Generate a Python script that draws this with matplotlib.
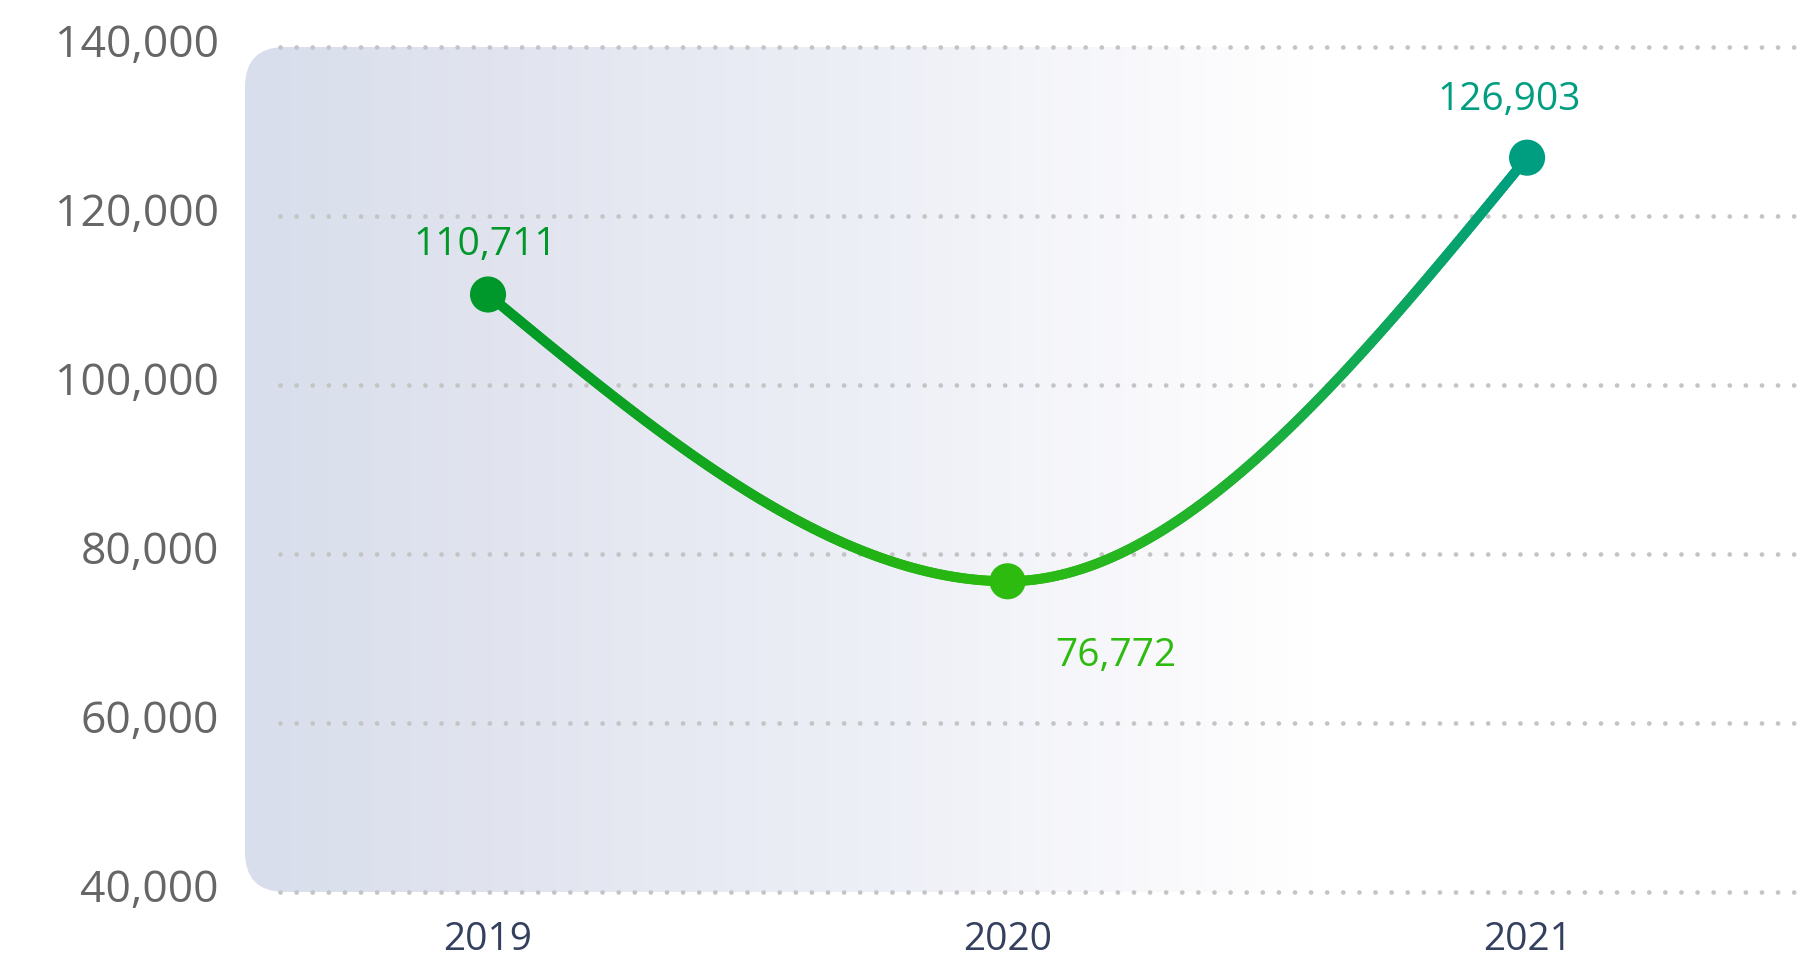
import numpy as np
import matplotlib
matplotlib.use("Agg")
import matplotlib.pyplot as plt
from matplotlib.collections import LineCollection
from matplotlib.colors import LinearSegmentedColormap
from matplotlib.patches import FancyBboxPatch
from matplotlib.transforms import ScaledTranslation

years = ["2019", "2020", "2021"]
values = [110711, 76772, 126903]
point_colors = ["#00982a", "#2dbb0f", "#009e80"]
label_offsets = [(-2, 36), (78, -53), (-13, 42)]   # points, from each marker
y_ticks = [40000, 60000, 80000, 100000, 120000, 140000]

FONT = "Open Sans"
W, H = 1804, 962

fig = plt.figure(figsize=(W / 100, H / 100), dpi=100)

# panel behind the chart, drawn in pixel coordinates
bg = fig.add_axes([0, 0, 1, 1], zorder=0)
bg.set_xlim(0, W)
bg.set_ylim(H, 0)
bg.axis("off")
x0, x1, top, bottom = 245, W + 60, 48, 893
panel = FancyBboxPatch((x0, top), x1 - x0, bottom - top,
                       boxstyle="round,pad=0,rounding_size=40",
                       facecolor="none", edgecolor="none")
bg.add_patch(panel)
fade = LinearSegmentedColormap.from_list(
    "fade", [(0, "#d8deec"), (0.15, "#e1e4ef"), (0.4, "#eef0f7"),
             (0.56, "#f9f9fc"), (0.66, "#ffffff"), (1, "#ffffff")])
grad = np.linspace(0, 1, 512)[None, :]
im = bg.imshow(grad, cmap=fade, aspect="auto", extent=[x0, x1, bottom, top],
               interpolation="bilinear")
im.set_clip_path(panel)

ax = fig.add_axes([280 / W, (H - 893) / H, 1 - 280 / W, (893 - 48) / H], zorder=1)
ax.patch.set_alpha(0)
xs = np.arange(len(years))
ax.set_xlim(-0.4004, 2.533)
ax.set_ylim(40000, 140000)
for s in ax.spines.values():
    s.set_visible(False)

# dotted gridlines
for v in y_ticks:
    ax.axhline(v, color="#c4c4c4", lw=3.4, linestyle=(0, (0.01, 3.4)),
               dash_capstyle="round", clip_on=False, zorder=1)

# monotone cubic path through the points
y = np.array(values, dtype=float)
h = np.diff(xs)
sl = np.diff(y) / h
tang = np.zeros(len(y))
for i in range(1, len(y) - 1):
    if sl[i - 1] * sl[i] > 0:
        p = (sl[i - 1] * h[i] + sl[i] * h[i - 1]) / (h[i - 1] + h[i])
        tang[i] = np.sign(sl[i]) * min(abs(sl[i - 1]), abs(sl[i]), 0.5 * abs(p))
tang[0] = (3 * sl[0] - tang[1]) / 2
tang[-1] = (3 * sl[-1] - tang[-2]) / 2

px, py = [], []
t = np.linspace(0, 1, 200)[:, None]
for i in range(len(y) - 1):
    P = np.array([[xs[i], y[i]],
                  [xs[i] + h[i] / 3, y[i] + tang[i] * h[i] / 3],
                  [xs[i + 1] - h[i] / 3, y[i + 1] - tang[i + 1] * h[i] / 3],
                  [xs[i + 1], y[i + 1]]])
    B = ((1 - t) ** 3) * P[0] + 3 * ((1 - t) ** 2) * t * P[1] + 3 * (1 - t) * t ** 2 * P[2] + t ** 3 * P[3]
    px.append(B[:, 0])
    py.append(B[:, 1])
px = np.concatenate(px)
py = np.concatenate(py)

line_cmap = LinearSegmentedColormap.from_list(
    "line", [(0, point_colors[0]), (0.5, point_colors[1]), (0.72, "#1fb232"), (1, point_colors[2])])
pts = np.column_stack([px, py]).reshape(-1, 1, 2)
segs = np.concatenate([pts[:-1], pts[1:]], axis=1)
lc = LineCollection(segs, cmap=line_cmap, linewidths=7.2, capstyle="round", zorder=3)
lc.set_array((px[:-1] + px[1:]) / 2 / (len(xs) - 1))
lc.set_clim(0, 1)
ax.add_collection(lc)

ax.scatter(xs, values, s=26 ** 2, c=point_colors, zorder=4, linewidths=0)

for xi, v, c, off in zip(xs, values, point_colors, label_offsets):
    ax.annotate(f"{v:,}", (xi, v), xytext=off, textcoords="offset points",
                ha="center", va="center", color=c, fontsize=28, family=FONT)

ax.set_xticks(xs, years)
ax.set_yticks(y_ticks, [f"{v:,}" for v in y_ticks])
ax.tick_params(axis="both", length=0)
ax.tick_params(axis="x", pad=20, labelsize=28, labelcolor="#34405e")
ax.tick_params(axis="y", pad=44, labelsize=32, labelcolor="#666666")
for lab in ax.get_xticklabels() + ax.get_yticklabels():
    lab.set_family(FONT)
for lab in ax.get_yticklabels():
    lab.set_transform(lab.get_transform() + ScaledTranslation(0, 8 / 100, fig.dpi_scale_trans))

fig.savefig("out.png", dpi=100)
